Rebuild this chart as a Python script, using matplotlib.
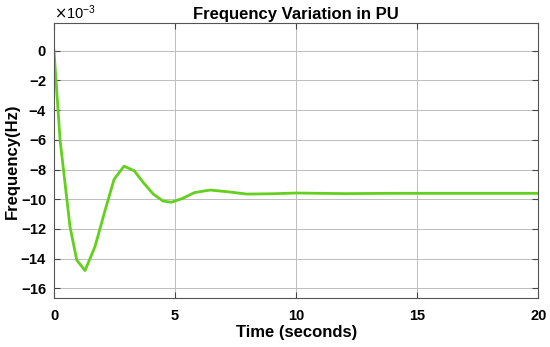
import numpy as np
import matplotlib.pyplot as plt

plt.rcParams['font.family'] = ['Liberation Sans', 'DejaVu Sans']

# time (s) and frequency deviation (x1e-3 Hz)
t = [0, 0.25, 0.66, 0.94, 1.28, 1.69, 2.1, 2.48, 2.89, 3.31, 3.7, 4.1, 4.5,
     4.85, 5.3, 5.8, 6.45, 7.2, 7.96, 9.0, 10.0, 11.0, 12.0, 14.0, 16.0, 18.0, 20.0]
f = [0, -6.0, -11.85, -14.1, -14.8, -13.2, -10.8, -8.66, -7.77, -8.08, -8.9,
     -9.65, -10.12, -10.2, -9.95, -9.55, -9.38, -9.5, -9.65, -9.63, -9.58,
     -9.6, -9.62, -9.6, -9.6, -9.6, -9.6]
freq = np.array(f) * 1e-3

fig = plt.figure(figsize=(5.5, 3.47), dpi=100)
ax = fig.add_axes([0.0982, 0.1403, 0.8805, 0.7926])
ax.plot(t, freq, color='#62d01c', linewidth=2.0)

ax.set_xlim(0, 20)
ax.set_ylim(-16.67e-3, 1.85e-3)
ax.set_xticks([0, 5, 10, 15, 20])
ax.set_yticks(np.arange(-16, 1, 2) * 1e-3)
ax.ticklabel_format(axis='y', style='sci', scilimits=(-3, -3), useMathText=True)
ax.yaxis.get_offset_text().set_fontsize(10.5)

ax.grid(True, color='#bdbdbd', linewidth=0.7)
ax.tick_params(direction='in', top=True, right=True, length=4, labelsize=10.5,
               color='#444444')
ax.tick_params(axis='y', pad=5)
ax.tick_params(axis='x', pad=8)
for lab in ax.get_xticklabels() + ax.get_yticklabels():
    lab.set_fontweight('bold')
for s in ax.spines.values():
    s.set_color('#555555')

ax.set_title('Frequency Variation in PU', fontsize=12, fontweight='bold', pad=3)
ax.set_xlabel('Time (seconds)', fontsize=12, fontweight='bold', labelpad=1)
ax.set_ylabel('Frequency(Hz)', fontsize=12, fontweight='bold')
ax.yaxis.set_label_coords(-0.07, 0.5)

fig.savefig('out.png', dpi=100)
